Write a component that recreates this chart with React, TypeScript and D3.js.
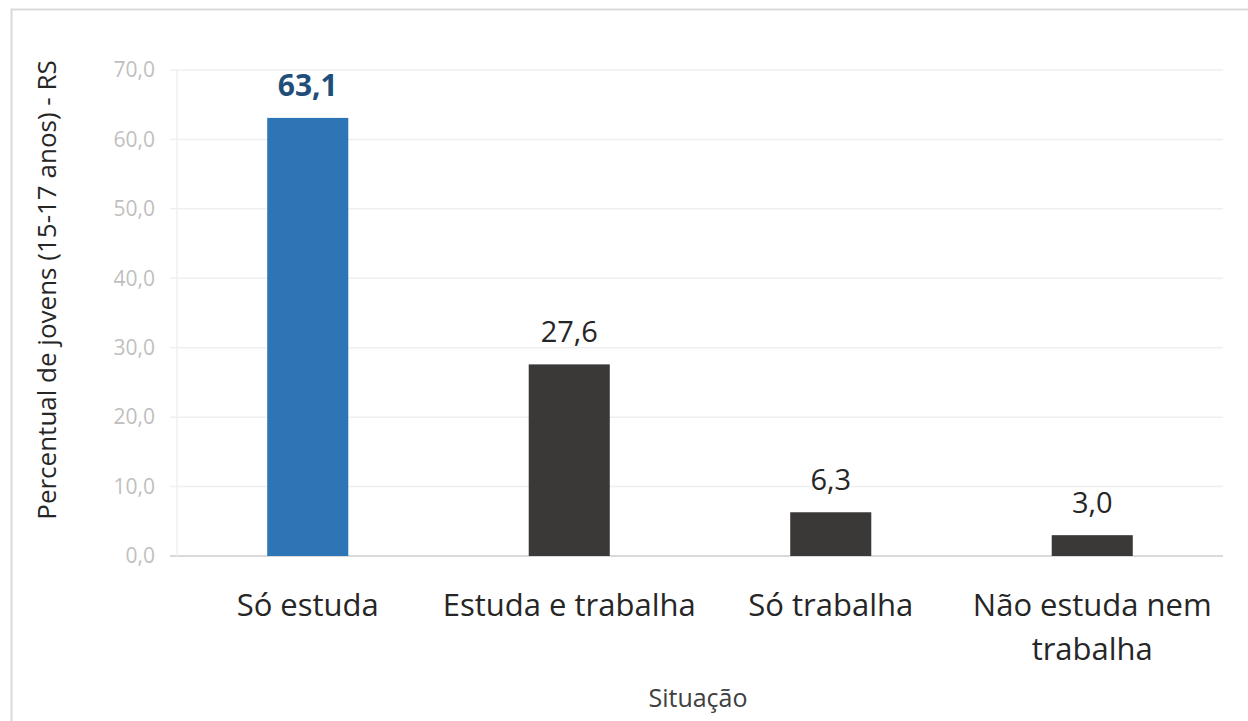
import React, { useEffect, useRef } from "react";
import * as d3 from "d3";

const categories = ["Só estuda", "Estuda e trabalha", "Só trabalha", "Não estuda nem trabalha"];
const values = [63.1, 27.6, 6.3, 3.0];
const yTicks = [0, 10, 20, 30, 40, 50, 60, 70];
const yTitle = "Percentual de jovens (15-17 anos) - RS";
const xTitle = "Situação";

const fmt = (v: number) => v.toFixed(1).replace(".", ",");

const App = () => {
  const ref = useRef<SVGSVGElement>(null);
  const W = 1248;
  const H = 721;
  const margin = { top: 70, right: 25, bottom: 165, left: 177 };
  const width = W - margin.left - margin.right;
  const height = H - margin.top - margin.bottom;
  const font = "'Open Sans', 'Noto Sans', sans-serif";

  useEffect(() => {
    const svg = d3.select(ref.current);
    svg.selectAll("*").remove();

    // chart frame
    svg
      .append("rect")
      .attr("x", 11.5)
      .attr("y", 9.5)
      .attr("width", W + 20)
      .attr("height", H + 20)
      .attr("fill", "#fff")
      .attr("stroke", "#d9d9d9")
      .attr("stroke-width", 2);

    const x = d3
      .scaleBand()
      .domain(categories)
      .range([0, width])
      .paddingInner(0.69)
      .paddingOuter(0.345);

    const y = d3.scaleLinear().domain([0, 70]).range([height, 0]);

    const g = svg
      .append("g")
      .attr("transform", `translate(${margin.left},${margin.top})`);

    // gridlines + tick labels
    yTicks.forEach((t) => {
      g.append("line")
        .attr("x1", -7)
        .attr("x2", width)
        .attr("y1", y(t))
        .attr("y2", y(t))
        .attr("stroke", t === 0 ? "#d9d9d9" : "#efefef")
        .attr("stroke-width", t === 0 ? 2 : 1.5);
      g.append("text")
        .attr("x", -22)
        .attr("y", y(t))
        .attr("dy", "0.35em")
        .attr("text-anchor", "end")
        .attr("font-family", font)
        .attr("font-size", 21)
        .attr("fill", "#bfbfbf")
        .text(fmt(t));
    });

    // vertical axis line
    g.append("line")
      .attr("x1", 0)
      .attr("x2", 0)
      .attr("y1", 0)
      .attr("y2", height)
      .attr("stroke", "#efefef")
      .attr("stroke-width", 1.5);

    // bars
    categories.forEach((c, i) => {
      const v = values[i];
      g.append("rect")
        .attr("x", x(c)!)
        .attr("y", y(v))
        .attr("width", x.bandwidth())
        .attr("height", height - y(v))
        .attr("fill", i === 0 ? "#2e75b6" : "#3b3838");

      g.append("text")
        .attr("x", x(c)! + x.bandwidth() / 2)
        .attr("y", y(v) - 22)
        .attr("text-anchor", "middle")
        .attr("font-family", font)
        .attr("font-size", i === 0 ? 30 : 29)
        .attr("font-weight", i === 0 ? 700 : 400)
        .attr("fill", i === 0 ? "#1f4e79" : "#262626")
        .text(fmt(v));

      // category label, wrapped
      const lines = c === "Não estuda nem trabalha" ? ["Não estuda nem", "trabalha"] : [c];
      lines.forEach((ln, k) => {
        g.append("text")
          .attr("x", x(c)! + x.bandwidth() / 2)
          .attr("y", height + 60 + k * 44)
          .attr("text-anchor", "middle")
          .attr("font-family", font)
          .attr("font-size", 31)
          .attr("fill", "#262626")
          .text(ln);
      });
    });

    // axis titles
    svg
      .append("text")
      .attr("transform", `translate(56,${margin.top + 220}) rotate(-90)`)
      .attr("text-anchor", "middle")
      .attr("font-family", font)
      .attr("font-size", 26)
      .attr("fill", "#262626")
      .text(yTitle);

    svg
      .append("text")
      .attr("x", margin.left + width / 2 - 2)
      .attr("y", 707)
      .attr("text-anchor", "middle")
      .attr("font-family", font)
      .attr("font-size", 25)
      .attr("fill", "#404040")
      .text(xTitle);
  }, []);

  return (
    <div style={{ position: "absolute", left: 0, top: 0 }}>
      <svg ref={ref} width={W} height={H}></svg>
    </div>
  );
};

export default App;
